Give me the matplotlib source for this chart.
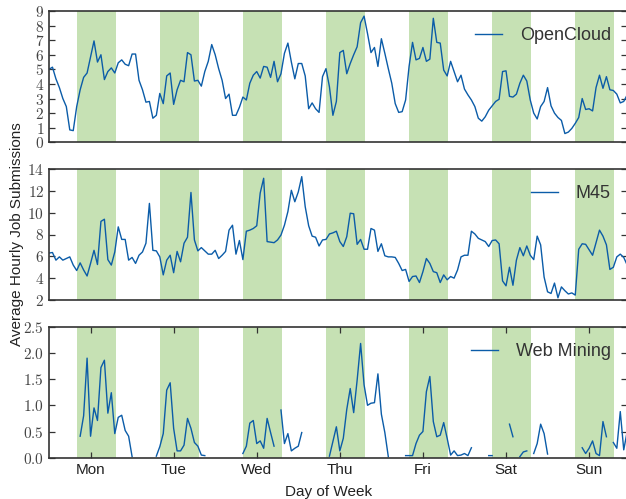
import numpy as np
import matplotlib
matplotlib.use('Agg')
import matplotlib.pyplot as plt

nan = np.nan

# hourly averages, Monday 00:00 .. Sunday 23:00
open_cloud = [5.0, 5.15, 4.35, 3.75, 3.0, 2.45, 0.85, 0.8, 2.45, 3.6, 4.45, 4.75,
              5.85, 6.95, 5.5, 6.0, 4.3, 4.85, 5.1, 4.75, 5.45, 5.65, 5.35, 5.25,
              6.05, 6.05, 4.25, 3.6, 2.75, 2.8, 1.65, 1.85, 3.35, 2.65, 4.55, 4.75,
              2.6, 3.6, 4.25, 4.15, 6.15, 6.0, 4.2, 4.25, 3.85, 4.85, 5.55, 6.7,
              6.0, 5.05, 4.25, 3.0, 3.3, 1.85, 1.85, 2.4, 3.1, 2.9, 4.05, 4.6,
              4.85, 4.4, 5.2, 5.15, 4.45, 5.55, 4.15, 4.7, 6.1, 6.8, 5.5, 4.35,
              5.4, 5.4, 4.55, 2.3, 2.7, 2.3, 2.05, 4.5, 5.05, 3.8, 1.85, 2.8,
              6.15, 6.3, 4.7, 5.4, 6.0, 6.55, 8.2, 8.65, 7.45, 6.15, 6.5, 5.2,
              7.1, 6.1, 5.05, 4.05, 2.65, 2.05, 2.1, 2.9, 5.2, 6.85, 5.65, 5.75,
              6.5, 5.55, 5.7, 8.5, 6.85, 6.8, 4.95, 4.55, 5.55, 4.85, 4.15, 4.6,
              3.65, 3.25, 2.9, 2.45, 1.65, 1.45, 1.75, 2.2, 2.5, 2.8, 2.95, 4.85,
              4.9, 3.15, 3.1, 3.3, 4.05, 4.6, 4.2, 2.9, 2.0, 1.6, 2.45, 2.8,
              3.75, 2.5, 2.0, 1.7, 1.5, 0.6, 0.7, 0.95, 1.3, 1.7, 3.0, 2.25,
              2.3, 2.15, 3.75, 4.6, 3.7, 4.5, 3.6, 3.55, 3.3, 2.7, 2.8, 3.25]

m45 = [6.3, 6.35, 5.65, 5.95, 5.65, 5.8, 5.95, 5.2, 4.7, 5.4, 4.75, 4.2,
       5.35, 6.55, 5.25, 9.2, 9.4, 5.7, 5.2, 6.4, 8.7, 7.55, 7.55, 5.65,
       5.9, 5.35, 6.1, 6.4, 7.2, 10.85, 6.55, 6.5, 5.95, 4.3, 5.65, 6.1,
       4.5, 6.45, 5.5, 7.2, 7.75, 11.85, 7.5, 6.5, 6.8, 6.5, 6.2, 6.2,
       6.55, 5.8, 6.1, 6.45, 8.4, 8.85, 6.2, 7.45, 5.7, 8.3, 8.4, 8.55,
       8.8, 11.8, 13.15, 7.35, 7.3, 7.25, 7.5, 7.95, 8.85, 10.1, 12.05, 11.0,
       11.9, 13.3, 10.55, 8.8, 7.85, 7.75, 6.95, 7.5, 7.55, 8.05, 8.15, 8.3,
       7.35, 6.9, 7.8, 9.95, 9.9, 7.1, 7.55, 6.65, 6.65, 8.55, 8.4, 6.45,
       7.15, 6.05, 5.95, 5.95, 5.9, 5.35, 4.7, 4.8, 3.7, 4.15, 4.2, 3.6,
       4.6, 5.8, 5.35, 4.6, 4.5, 3.6, 4.3, 3.85, 4.15, 4.0, 4.75, 5.95,
       6.1, 6.1, 8.3, 8.05, 7.65, 7.5, 7.35, 6.9, 7.45, 7.5, 7.15, 3.75,
       3.3, 5.0, 3.35, 5.65, 6.8, 6.05, 6.95, 6.1, 5.7, 7.85, 7.05, 4.1,
       2.75, 2.6, 3.55, 2.2, 3.2, 2.85, 2.55, 2.65, 2.45, 6.65, 7.15, 7.1,
       6.6, 6.1, 7.25, 8.4, 7.85, 7.05, 4.8, 5.0, 5.95, 6.2, 5.9, 5.2]

# gaps are hours without any submission
web_mining = [nan, nan, nan, nan, nan, nan, nan, nan, nan, 0.41, 0.8, 1.9,
              0.41, 0.95, 0.71, 1.72, 1.86, 0.85, 1.24, 0.46, 0.77, 0.81, 0.52, 0.41,
              0.02, nan, nan, nan, nan, nan, nan, 0.03, 0.21, 0.46, 1.29, 1.43,
              0.56, 0.13, 0.13, 0.24, 0.75, 0.56, 0.29, 0.22, 0.05, 0.04, nan, nan,
              nan, nan, nan, nan, nan, nan, nan, nan, 0.08, 0.22, 0.66, 0.71,
              0.27, 0.32, 0.18, 0.75, 0.48, 0.22, nan, 0.91, 0.27, 0.46, 0.13, 0.18,
              0.22, 0.48, nan, nan, nan, nan, nan, nan, nan, 0.03, 0.31, 0.59,
              0.13, 0.37, 0.92, 1.32, 0.86, 1.48, 2.18, 1.39, 1.0, 1.04, 1.05, 1.6,
              0.83, 0.48, 0.02, nan, nan, nan, nan, 0.04, 0.04, 0.04, 0.27, 0.43,
              0.5, 1.26, 1.55, 0.69, 0.4, 0.43, 0.67, 0.37, 0.05, 0.13, 0.04, 0.05,
              0.08, 0.04, 0.19, nan, nan, nan, nan, 0.04, 0.04, nan, nan, nan,
              nan, 0.64, 0.4, nan, 0.02, 0.11, 0.13, nan, 0.08, 0.27, 0.64, 0.46,
              0.07, nan, nan, nan, nan, nan, nan, nan, nan, nan, 0.19, 0.08,
              0.18, 0.32, 0.08, 0.04, 0.69, 0.4, nan, 0.29, 0.18, 0.88, 0.15, 0.5]

days = ['Mon', 'Tue', 'Wed', 'Thu', 'Fri', 'Sat', 'Sun']
series = [('OpenCloud', open_cloud), ('M45', m45), ('Web Mining', web_mining)]
yticks = [list(range(0, 10)), list(range(2, 15, 2)), [0.0, 0.5, 1.0, 1.5, 2.0, 2.5]]
ytick_fmt = ['{:d}', '{:d}', '{:.1f}']
work_start, work_end = 8, 19.3

line_color = '#0b5ca8'
band_color = '#c6e1b4'
dark = '#333333'

plt.rcParams['font.family'] = ['Liberation Sans', 'DejaVu Sans']
plt.rcParams['mathtext.fontset'] = 'cm'

fig = plt.figure(figsize=(6.26, 4.99), dpi=100)
W, H = 626.0, 499.0
left, right = 49.0, 627.2
panels = [(11.0, 142.3), (169.0, 300.0), (326.7, 457.7)]

hours = np.arange(len(open_cloud))
for i, ((name, values), (top, bottom)) in enumerate(zip(series, panels)):
    ax = fig.add_axes([left / W, 1 - bottom / H, (right - left) / W, (bottom - top) / H])
    for d in range(len(days)):
        ax.axvspan(d * 24 + work_start, d * 24 + work_end, color=band_color, lw=0, zorder=0)
    ax.plot(hours, values, color=line_color, lw=1.0, label=name, zorder=2)
    ax.set_xlim(0, len(hours) - 1)
    ax.set_ylim(yticks[i][0], yticks[i][-1])
    ax.set_yticks(yticks[i])
    ax.set_yticklabels(['$' + ytick_fmt[i].format(t) + '$' for t in yticks[i]],
                       fontsize=11, color='#444444')
    ax.tick_params(axis='y', direction='in', left=True, right=True, length=4,
                   width=0.9, color=dark)
    if i < 2:
        ax.set_xticks([])
    else:
        ax.set_xticks([d * 24 + 12 for d in range(len(days))])
        ax.set_xticklabels(days, fontsize=11, color='#222222')
        ax.tick_params(axis='x', direction='in', top=True, bottom=True, length=4,
                       width=0.9, color=dark)
    for s in ax.spines.values():
        s.set_color(dark)
        s.set_linewidth(1.2)
    ax.legend(loc='upper right', frameon=False, fontsize=13, handlelength=1.5,
              handletextpad=1.0, labelcolor=dark)

fig.text(17 / W, 1 - 234 / H, 'Average Hourly Job Submissions', rotation=90,
         ha='center', va='center', fontsize=11, color='#222222')
fig.text(329 / W, 1 - 496 / H, 'Day of Week', ha='center', va='baseline',
         fontsize=11, color='#222222')

fig.savefig('out.png', dpi=100)
